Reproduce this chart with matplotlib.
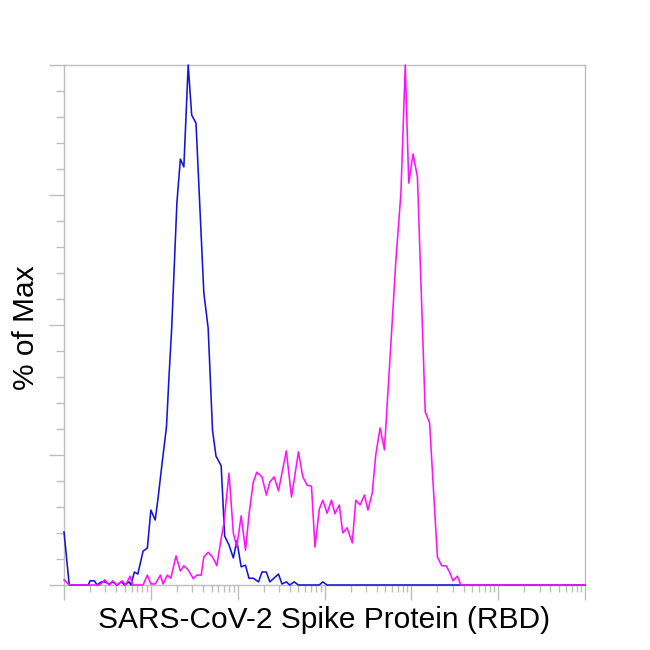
import numpy as np
import matplotlib
matplotlib.use("Agg")
import matplotlib.pyplot as plt
from matplotlib.ticker import LogLocator, MultipleLocator, NullFormatter

# histogram vertices, x in log10 units (decades from 10^0), y in % of max
blue_log = [0.00, 0.06, 0.28, 0.30, 0.35, 0.38, 0.43, 0.47, 0.52, 0.56, 0.61, 0.66,
            0.70, 0.75, 0.77, 0.81, 0.85, 0.91, 0.96, 1.00, 1.05, 1.08, 1.13, 1.18,
            1.21, 1.24, 1.30, 1.34, 1.38, 1.43, 1.47, 1.52, 1.61, 1.66, 1.71, 1.75,
            1.81, 1.85, 1.90, 1.95, 1.99, 2.04, 2.09, 2.13, 2.18, 2.24, 2.28, 2.33,
            2.37, 2.47, 2.51, 2.56, 2.60, 2.65, 2.70, 2.94, 2.98, 3.03, 6.00]
blue_pct = [10.2, 0, 0, 0.8, 0.8, 0, 0.6, 0.6, 0.2, 0.6, 0, 0.6,
            0, 0.6, 0, 2.5, 2.1, 6.5, 7.1, 14.4, 12.5, 16.3, 23.5, 30.4,
            40.4, 49.4, 73.5, 81.9, 80.4, 100, 90.4, 88.8, 56.2, 49.4, 29.8, 24.8,
            22.9, 9.4, 7.7, 5.2, 8.5, 3.5, 3.8, 1.3, 1.3, 0.6, 2.5, 2.5,
            0.6, 2.1, 0.2, 0.6, 0, 0.6, 0, 0, 0.6, 0, 0]

mag_log = [0.00, 0.06, 0.41, 0.47, 0.52, 0.56, 0.61, 0.67, 0.71, 0.76, 0.79, 0.91,
           0.96, 1.00, 1.05, 1.11, 1.14, 1.19, 1.23, 1.29, 1.34, 1.38, 1.43, 1.49,
           1.53, 1.58, 1.61, 1.66, 1.71, 1.76, 1.81, 1.84, 1.90, 1.95, 1.99, 2.04,
           2.09, 2.13, 2.18, 2.22, 2.28, 2.33, 2.37, 2.42, 2.47, 2.56, 2.62, 2.70,
           2.75, 2.80, 2.85, 2.89, 2.94, 2.98, 3.03, 3.08, 3.12, 3.17, 3.21, 3.26,
           3.32, 3.36, 3.41, 3.46, 3.50, 3.55, 3.59, 3.64, 3.69, 3.79, 3.82, 3.88,
           3.93, 3.97, 4.02, 4.07, 4.16, 4.21, 4.30, 4.35, 4.40, 4.44, 4.48, 4.53,
           4.57, 6.00]
mag_pct = [1.0, 0, 0, 1.0, 0, 0.8, 0, 0.8, 0, 1.7, 0, 0,
           1.9, 0.2, 0.2, 1.9, 0.2, 1.9, 1.3, 5.6, 2.7, 3.7, 2.9, 1.2,
           1.9, 1.9, 5.4, 6.3, 5.4, 3.7, 9.0, 11.7, 21.5, 10.0, 7.3, 13.3,
           6.7, 13.5, 19.8, 21.7, 20.8, 17.3, 19.8, 20.8, 18.1, 25.8, 16.9, 25.6,
           20.8, 19.2, 19.0, 7.3, 14.6, 16.3, 13.8, 16.3, 13.7, 15.4, 10.0, 11.0,
           8.1, 16.3, 15.4, 17.3, 14.4, 17.7, 25.0, 30.2, 26.0, 53.5, 61.9, 75.4,
           100, 77.3, 82.9, 78.5, 33.3, 31.2, 5.4, 3.7, 3.7, 2.5, 0.8, 1.7,
           0, 0]

plt.rcParams['font.family'] = ['Liberation Sans', 'DejaVu Sans']

fig = plt.figure(figsize=(6.5, 6.5), dpi=100)
ax = fig.add_axes([0.0985, 0.1, 0.8015, 0.8])

ax.plot(np.power(10.0, blue_log), blue_pct, color='#1414d6', lw=1.15, clip_on=False, zorder=3)
ax.plot(np.power(10.0, mag_log), mag_pct, color='#ff10ff', lw=1.15, clip_on=False, zorder=4)

ax.set_xscale('log')
ax.set_xlim(1, 1e6)
ax.set_ylim(0, 100)

ax.xaxis.set_major_locator(LogLocator(base=10, numticks=10))
ax.xaxis.set_minor_locator(LogLocator(base=10, subs=np.arange(2, 10), numticks=20))
ax.xaxis.set_major_formatter(NullFormatter())
ax.xaxis.set_minor_formatter(NullFormatter())
ax.yaxis.set_major_locator(MultipleLocator(25))
ax.yaxis.set_minor_locator(MultipleLocator(5))
ax.yaxis.set_major_formatter(NullFormatter())

gray = '#bdbdbd'
for s in ax.spines.values():
    s.set_color(gray)
    s.set_linewidth(1.0)
ax.tick_params(axis='both', which='both', direction='out', color=gray, width=1.0)
ax.tick_params(axis='x', which='major', length=11)
ax.tick_params(axis='x', which='minor', length=5)
ax.tick_params(axis='y', which='major', length=10.5)
ax.tick_params(axis='y', which='minor', length=6)

ax.set_xlabel('SARS-CoV-2 Spike Protein (RBD)', fontsize=21.5)
ax.xaxis.set_label_coords(0.5, -0.04)
ax.set_ylabel('% of Max', fontsize=21.5)
ax.yaxis.set_label_coords(-0.046, 0.495)

fig.savefig('out.png', dpi=100)
